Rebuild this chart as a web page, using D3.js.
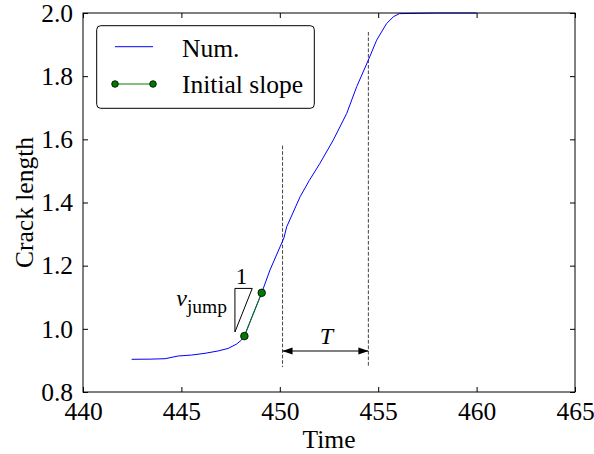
<!DOCTYPE html>
<html><head><meta charset="utf-8">
<script src="https://cdn.jsdelivr.net/npm/d3@7"></script>
<style>body{margin:0;background:#fff}text{font-family:"Liberation Serif","Times New Roman",serif;fill:#000}</style>
</head><body><svg id="c" width="594" height="454"></svg>
<script>
const timeVals = [442.47,443.4,444.17,444.84,445.52,446.2,446.87,447.38,447.81,448.06,448.2,448.6,449.08,449.5,450.21,450.35,451.03,451.5,452.04,452.72,453.4,453.91,454.5,454.92,455.43,455.77,456.07,458.0,460.0];
const crackVals = [0.9035,0.904,0.9054,0.914,0.917,0.9225,0.930,0.938,0.952,0.965,0.977,1.040,1.114,1.186,1.288,1.323,1.418,1.470,1.524,1.598,1.682,1.767,1.851,1.914,1.967,1.988,1.998,2.0,2.0];
const slopeT = [448.2, 449.08];
const slopeV = [0.977, 1.114];
const xTicks = [440,445,450,455,460,465];
const yTicks = [0.8,1.0,1.2,1.4,1.6,1.8,2.0];
const dashT = [450.14, 454.5];
const dashTop = [1.58, 1.94];
const legendLabels = ["Num.", "Initial slope"];

const svg = d3.select("#c");
const L=83,R=575,T=13,B=392;
const x = d3.scaleLinear().domain([440,465]).range([L,R]);
const y = d3.scaleLinear().domain([0.8,2.0]).range([B,T]);
const fs=25.5;

// dashed lines
dashT.forEach((t,i)=>{
  svg.append("line").attr("x1",x(t)).attr("x2",x(t)).attr("y1",y(dashTop[i])).attr("y2",y(0.879))
    .attr("stroke","#444").attr("stroke-width",1).attr("stroke-dasharray","3.7,1.8");
});

// curve
const pts = timeVals.map((t,i)=>[t,crackVals[i]]);
svg.append("path").datum(pts).attr("fill","none").attr("stroke","#0000ff").attr("stroke-width",1)
  .attr("d", d3.line().x(d=>x(d[0])).y(d=>y(d[1])));

// initial slope
svg.append("line").attr("x1",x(slopeT[0])).attr("y1",y(slopeV[0])).attr("x2",x(slopeT[1])).attr("y2",y(slopeV[1]))
  .attr("stroke","#008000").attr("stroke-width",1);
slopeT.forEach((t,i)=>svg.append("circle").attr("cx",x(t)).attr("cy",y(slopeV[i])).attr("r",3.8)
  .attr("fill","#007a00").attr("stroke","#000").attr("stroke-width",0.8));

// triangle
const tri = [[448.6,1.128],[447.72,1.128],[447.72,0.990],[448.6,1.128]];
svg.append("path").datum(tri).attr("fill","none").attr("stroke","#000").attr("stroke-width",1)
  .attr("d", d3.line().x(d=>x(d[0])).y(d=>y(d[1])));
svg.append("text").attr("x",241.5).attr("y",283.5).attr("text-anchor","middle").attr("font-size",23).text("1");
const vt = svg.append("text").attr("x",227).attr("y",306).attr("text-anchor","end").attr("font-size",24);
vt.append("tspan").attr("font-style","italic").text("v");
vt.append("tspan").attr("font-size",19.5).attr("dy",7).text("jump");

// T arrow
const defs = svg.append("defs");
defs.append("marker").attr("id","ah").attr("viewBox","0 0 10 10").attr("refX",10).attr("refY",5)
  .attr("markerWidth",10).attr("markerHeight",10).attr("markerUnits","userSpaceOnUse").attr("orient","auto-start-reverse")
  .append("path").attr("d","M0,1.5L10,5L0,8.5Z").attr("fill","#000");
const ay = 351;
svg.append("line").attr("x1",x(dashT[0])).attr("x2",x(dashT[1])).attr("y1",ay).attr("y2",ay)
  .attr("stroke","#000").attr("stroke-width",1).attr("marker-start","url(#ah)").attr("marker-end","url(#ah)");
svg.append("text").attr("x",(x(dashT[0])+x(dashT[1]))/2+1).attr("y",343.5).attr("text-anchor","middle")
  .attr("font-size",24).attr("font-style","italic").text("T");

// frame
svg.append("rect").attr("x",L).attr("y",T).attr("width",R-L).attr("height",B-T).attr("fill","none").attr("stroke","#000").attr("stroke-width",1);

// axes
svg.append("g").attr("transform",`translate(0,${B})`).call(d3.axisBottom(x).tickValues(xTicks).tickSize(-5).tickPadding(9.5).tickFormat(d3.format("d")))
  .call(g=>{g.select(".domain").remove();g.selectAll("text").attr("font-size",fs).attr("font-family","Liberation Serif");});
svg.append("g").attr("transform",`translate(0,${T})`).call(d3.axisTop(x).tickValues(xTicks).tickSize(-5).tickFormat(""))
  .call(g=>g.select(".domain").remove());
svg.append("g").attr("transform",`translate(${L},0)`).call(d3.axisLeft(y).tickValues(yTicks).tickSize(-5).tickPadding(10).tickFormat(d3.format(".1f")))
  .call(g=>{g.select(".domain").remove();g.selectAll("text").attr("font-size",fs).attr("font-family","Liberation Serif");});
svg.append("g").attr("transform",`translate(${R},0)`).call(d3.axisRight(y).tickValues(yTicks).tickSize(-5).tickFormat(""))
  .call(g=>g.select(".domain").remove());

svg.append("text").attr("x",(L+R)/2).attr("y",448).attr("text-anchor","middle").attr("font-size",fs).text("Time");
svg.append("text").attr("transform",`translate(33,${(T+B)/2}) rotate(-90)`).attr("text-anchor","middle").attr("font-size",fs).text("Crack length");

// legend
svg.append("rect").attr("x",96.7).attr("y",25.7).attr("width",217.6).attr("height",82.6).attr("rx",4)
  .attr("fill","#fff").attr("stroke","#000").attr("stroke-width",1);
svg.append("line").attr("x1",115).attr("x2",153).attr("y1",46.7).attr("y2",46.7).attr("stroke","#0000ff").attr("stroke-width",1);
svg.append("line").attr("x1",115).attr("x2",153).attr("y1",84).attr("y2",84).attr("stroke","#008000").attr("stroke-width",1);
[115,153].forEach(cx=>svg.append("circle").attr("cx",cx).attr("cy",84).attr("r",3.3).attr("fill","#007a00").attr("stroke","#000").attr("stroke-width",0.8));
legendLabels.forEach((s,i)=>svg.append("text").attr("x",182).attr("y",[57,93][i]).attr("font-size",fs).text(s));
</script></body></html>
